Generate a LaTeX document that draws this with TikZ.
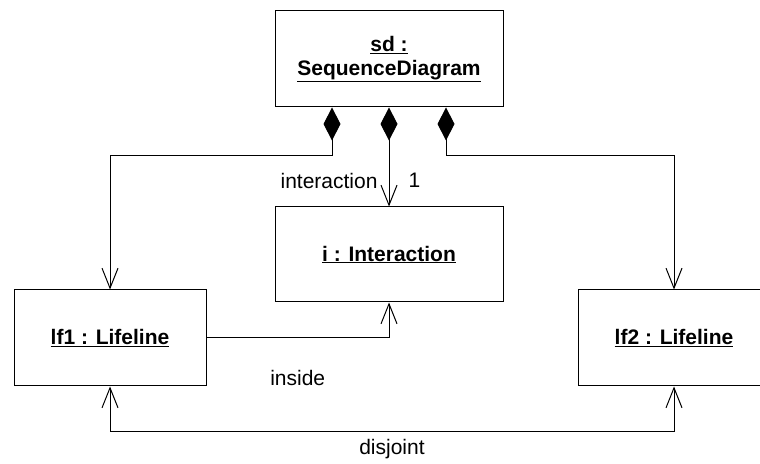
\documentclass[tikz,border=0pt]{standalone}
\usepackage{fontspec}
\setmainfont{Liberation Sans}
\usetikzlibrary{arrows.meta}

\begin{document}
\begin{tikzpicture}[x=1pt,y=1pt,
  font=\fontsize{21}{24}\selectfont,
  obj/.style={draw,line width=1pt,align=center,inner sep=0pt,
    font=\fontsize{21}{24}\selectfont\bfseries},
  whole/.style={line width=1pt,
    {Diamond[length=33pt,width=17pt]}-{Straight Barb[length=20pt,width=16pt]}},
  assoc/.style={line width=1pt,-{Straight Barb[length=20pt,width=16pt]}},
  twoway/.style={line width=1pt,
    {Straight Barb[length=20pt,width=16pt]}-{Straight Barb[length=20pt,width=16pt]}},
  lbl/.style={inner sep=2pt}]
	\clip (0,0) rectangle (760,463);

	% objects
	\node[obj,minimum width=228pt,minimum height=96pt] (sd) at (389,404)
	  {\underline{sd :}\\\underline{SequenceDiagram}};
	\node[obj,minimum width=228pt,minimum height=95pt] (i) at (389,208.5)
	  {\underline{i : Interaction}};
	\node[obj,minimum width=192pt,minimum height=96pt] (lf1) at (110,125)
	  {\underline{lf1 : Lifeline}};
	\node[obj,minimum width=192pt,minimum height=96pt] (lf2) at (674,125)
	  {\underline{lf2 : Lifeline}};

	% composition
	\draw[whole] ([xshift=-57pt]sd.south) -- ++(0,-48) -| (lf1.north);
	\draw[whole] (sd.south) --
	  node[pos=0.74,left=9pt,lbl] {interaction}
	  node[pos=0.74,right=17pt,lbl] {1} (i.north);
	\draw[whole] ([xshift=57pt]sd.south) -- ++(0,-48) -| (lf2.north);

	% links
	\draw[assoc] (lf1.east) -| node[pos=0.25,below=30pt,lbl] {inside} (i.south);
	\draw[twoway] (lf1.south) -- ++(0,-45) -| node[pos=0.25,below=5pt,lbl] {disjoint} (lf2.south);
\end{tikzpicture}
\end{document}
